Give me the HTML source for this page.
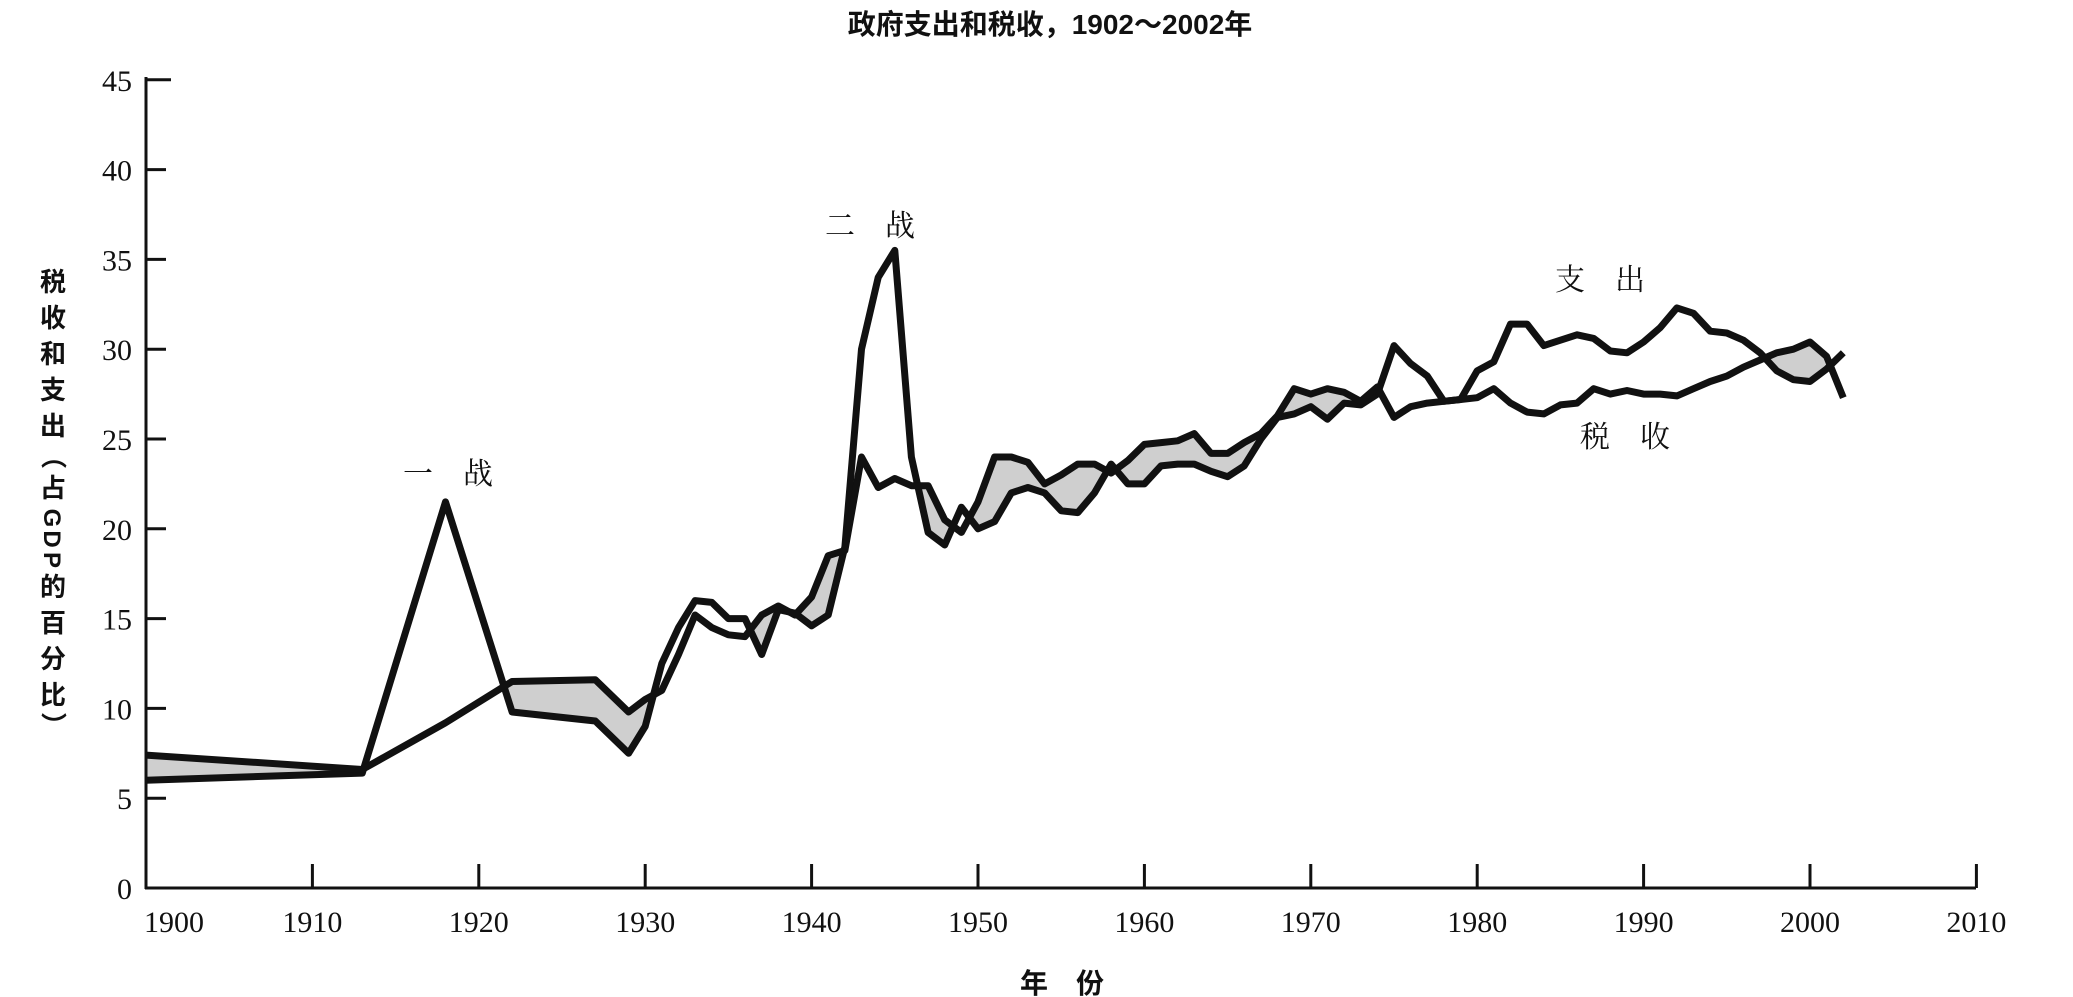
<!DOCTYPE html>
<html><head><meta charset="utf-8">
<style>
html,body{margin:0;padding:0;background:#fff;}
svg{display:block;}
text{font-family:"Liberation Serif","Noto Serif CJK SC",serif;fill:#111;}
.cjk{font-family:"Liberation Sans","Noto Sans CJK SC",sans-serif;font-weight:bold;}
.ann{font-family:"Liberation Serif","Noto Serif CJK SC",serif;font-weight:normal;}
</style></head>
<body>
<svg id="c" width="2073" height="997" viewBox="0 0 2073 997" xmlns="http://www.w3.org/2000/svg">
<text class="cjk" x="1050" y="34" font-size="28" text-anchor="middle">政府支出和税收，1902～2002年</text>
<g id="g"></g>
<text class="cjk" x="1062" y="993" font-size="28" text-anchor="middle">年　份</text>
<text class="ann" x="448" y="484" font-size="30" text-anchor="middle">一　战</text>
<text class="ann" x="870" y="236" font-size="30" text-anchor="middle">二　战</text>
<text class="ann" x="1600" y="290" font-size="30" text-anchor="middle">支　出</text>
<text class="ann" x="1625" y="447" font-size="30" text-anchor="middle">税　收</text>
</svg>
<script>
var X=function(y){return 146+16.64*(y-1900);};
var Y=function(v){return 888-17.96*v;};
var sp=[[1900,6.0],[1913,6.4],[1918,21.5],[1922,9.8],[1927,9.3],[1929,7.5],[1930,9],[1931,12.5],[1932,14.5],[1933,16],[1934,15.9],[1935,15],[1936,15],[1937,13],[1938,15.5],[1939,15.3],[1940,14.6],[1941,15.2],[1942,19],[1943,30],[1944,34],[1945,35.5],[1946,24],[1947,19.8],[1948,19.1],[1949,21.2],[1950,20],[1951,20.4],[1952,22],[1953,22.3],[1954,22],[1955,21],[1956,20.9],[1957,22],[1958,23.6],[1959,22.5],[1960,22.5],[1961,23.5],[1962,23.6],[1963,23.6],[1964,23.2],[1965,22.9],[1966,23.5],[1967,25],[1968,26.2],[1969,26.4],[1970,26.8],[1971,26.1],[1972,27],[1973,26.9],[1974,27.5],[1975,30.2],[1976,29.2],[1977,28.5],[1978,27.1],[1979,27.2],[1980,28.8],[1981,29.3],[1982,31.4],[1983,31.4],[1984,30.2],[1985,30.5],[1986,30.8],[1987,30.6],[1988,29.9],[1989,29.8],[1990,30.4],[1991,31.2],[1992,32.3],[1993,32],[1994,31],[1995,30.9],[1996,30.5],[1997,29.8],[1998,28.8],[1999,28.3],[2000,28.2],[2001,28.9],[2002,29.8]];
var tx=[[1900,7.4],[1913,6.6],[1918,9.2],[1922,11.5],[1927,11.6],[1929,9.8],[1930,10.5],[1931,11],[1932,13],[1933,15.2],[1934,14.5],[1935,14.1],[1936,14],[1937,15.2],[1938,15.7],[1939,15.2],[1940,16.2],[1941,18.5],[1942,18.8],[1943,24],[1944,22.3],[1945,22.8],[1946,22.4],[1947,22.4],[1948,20.5],[1949,19.8],[1950,21.5],[1951,24],[1952,24],[1953,23.7],[1954,22.5],[1955,23],[1956,23.6],[1957,23.6],[1958,23.1],[1959,23.8],[1960,24.7],[1961,24.8],[1962,24.9],[1963,25.3],[1964,24.2],[1965,24.2],[1966,24.8],[1967,25.3],[1968,26.3],[1969,27.8],[1970,27.5],[1971,27.8],[1972,27.6],[1973,27.1],[1974,27.9],[1975,26.2],[1976,26.8],[1977,27],[1978,27.1],[1979,27.2],[1980,27.3],[1981,27.8],[1982,27],[1983,26.5],[1984,26.4],[1985,26.9],[1986,27],[1987,27.8],[1988,27.5],[1989,27.7],[1990,27.5],[1991,27.5],[1992,27.4],[1993,27.8],[1994,28.2],[1995,28.5],[1996,29.0],[1997,29.4],[1998,29.8],[1999,30.0],[2000,30.4],[2001,29.6],[2002,27.3]];
function pts(a){return a.map(function(p){return X(p[0]).toFixed(1)+","+Y(p[1]).toFixed(1);}).join(" ");}
var s='';
s+='<defs><clipPath id="above"><polygon points="'+X(1900)+',0 '+pts(sp)+' '+X(2002)+',0"/></clipPath></defs>';
s+='<polygon clip-path="url(#above)" points="'+X(1900)+',900 '+pts(tx)+' '+X(2002)+',900" fill="#cfcfcf" stroke="none"/>';
s+='<polyline points="'+pts(sp)+'" fill="none" stroke="#111" stroke-width="7" stroke-linejoin="round"/>';
s+='<polyline points="'+pts(tx)+'" fill="none" stroke="#111" stroke-width="7" stroke-linejoin="round"/>';
s+='<line x1="146" y1="77" x2="146" y2="889" stroke="#111" stroke-width="3"/>';
s+='<line x1="145" y1="888" x2="1976" y2="888" stroke="#111" stroke-width="3"/>';
for(var v=0;v<=45;v+=5){var y=Y(v);
 if(v>0) s+='<line x1="146" y1="'+y+'" x2="'+(v==45?171:166)+'" y2="'+y+'" stroke="#111" stroke-width="3"/>';
 s+='<text x="132" y="'+(y+11)+'" font-size="30" text-anchor="end">'+v+'</text>';}
for(var yr=1900;yr<=2010;yr+=10){var x=X(yr);
 if(yr>1900) s+='<line x1="'+x+'" y1="864" x2="'+x+'" y2="888" stroke="#111" stroke-width="3"/>';
 s+='<text x="'+(yr==1900?174:x)+'" y="932" font-size="30" text-anchor="middle">'+yr+'</text>';}
var lab="税收和支出（占GDP的百分比）".split("");
var yy=285;
lab.forEach(function(ch){
 var isL=/[A-Z]/.test(ch);
 if(ch=="（"||ch=="）"){s+='<text class="cjk" x="53" y="'+yy+'" font-size="26" text-anchor="middle" transform="rotate(90 53 '+(yy-9)+')">'+ch+'</text>';yy+=26;}
 else if(isL){s+='<text class="cjk" x="53" y="'+yy+'" font-size="24" text-anchor="middle" transform="rotate(90 53 '+(yy-9)+')">'+ch+'</text>';yy+=21;}
 else {s+='<text class="cjk" x="53" y="'+(yy+6)+'" font-size="26" text-anchor="middle">'+ch+'</text>';yy+=36;}
});
document.getElementById("g").innerHTML=s;
</script>
</body></html>
